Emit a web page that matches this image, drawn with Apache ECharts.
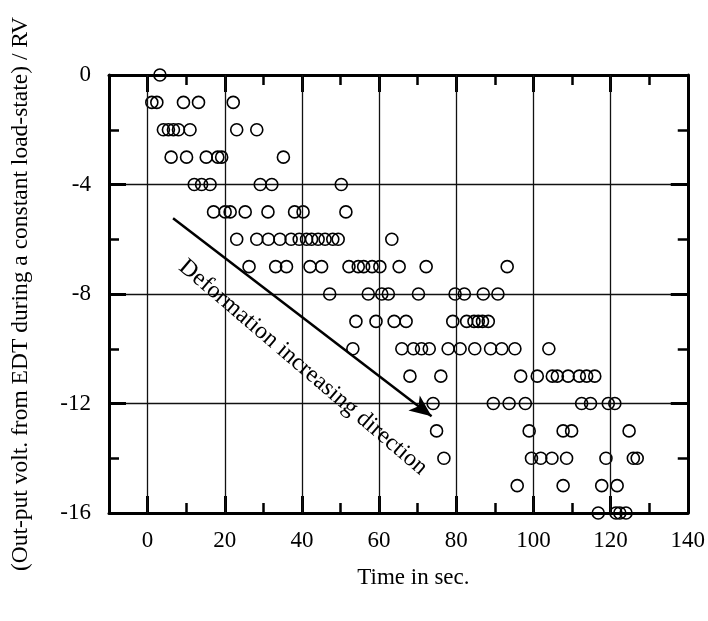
<!DOCTYPE html>
<html><head><meta charset="utf-8">
<script src="https://cdn.jsdelivr.net/npm/echarts@6/dist/echarts.min.js"></script>
<style>html,body{margin:0;padding:0;background:#fff}#c{width:708px;height:621px}</style>
</head><body><div id="c"></div>
<script>
// Voltage levels (RV) and the times (s) at which each level was recorded
const voltLevels = [0,-1,-2,-3,-4,-5,-6,-7,-8,-9,-10,-11,-12,-13,-14,-15,-16];
const timesAtLevel = [
  [3.2],
  [1.1, 2.4, 9.3, 13.2, 22.2],
  [4.1, 5.4, 6.7, 8.0, 11.0, 23.1, 28.3],
  [6.1, 10.1, 15.2, 18.2, 19.2, 35.2],
  [12.1, 14.0, 16.2, 29.2, 32.2, 50.2],
  [17.1, 20.1, 21.4, 25.3, 31.2, 38.1, 40.3, 51.4],
  [23.1, 28.3, 31.3, 34.3, 37.2, 39.3, 41.2, 42.5, 44.2, 46.0, 48.0, 49.4, 63.3],
  [26.3, 33.2, 36.0, 42.1, 45.1, 52.2, 54.6, 56.0, 58.2, 60.2, 65.2, 72.2, 93.2],
  [47.2, 57.2, 60.7, 62.4, 70.2, 79.7, 82.1, 87.0, 90.8],
  [54.0, 59.2, 63.9, 67.0, 79.1, 82.7, 84.6, 85.7, 86.8, 88.3],
  [53.2, 65.9, 68.9, 71.0, 73.0, 77.9, 81.0, 84.8, 88.9, 91.8, 95.2, 104.0],
  [68.0, 76.0, 96.7, 101.0, 104.9, 106.2, 109.0, 111.9, 113.8, 115.9],
  [74.0, 89.6, 93.7, 97.9, 112.5, 114.8, 119.4, 121.1],
  [74.9, 98.9, 107.7, 109.9, 124.8],
  [76.8, 99.5, 101.9, 104.8, 108.6, 118.8, 125.9, 126.9],
  [95.8, 107.7, 117.7, 121.7],
  [116.8, 121.4, 122.4, 124.0]
];
const xMajorTicks = [0, 20, 40, 60, 80, 100, 120, 140];
const xMinorTicks = [-10, 10, 30, 50, 70, 90, 110, 130];
const xGridValues = [0, 20, 40, 60, 80, 100, 120];
const arrowFrom = [6.6, -5.23];
const arrowTo = [73.6, -12.47];
const arrowText = 'Deformation increasing direction';
const arrowTextAt = [40.3, -10.68];

const points = [];
voltLevels.forEach((v, i) => timesAtLevel[i].forEach(t => points.push([t, v])));

const FONT = 'Liberation Serif';
const chart = echarts.init(document.getElementById('c'));

function xAx(pos, major, showLabel, showLine, extra) {
  return Object.assign({
    type: 'value', position: pos, min: -10, max: 140,
    axisLine: {show: showLine, onZero: false, lineStyle: {color: '#000', width: 3}},
    axisTick: {show: true, inside: true, customValues: major ? xMajorTicks : xMinorTicks,
      length: major ? 17 : 10, lineStyle: {color: '#000', width: major ? 3 : 2.5}},
    axisLabel: {show: showLabel, customValues: xMajorTicks, margin: 16,
      fontFamily: FONT, fontSize: 23, color: '#000'},
    splitLine: {show: false}
  }, extra || {});
}
function yAx(pos, showLabel, extra) {
  return Object.assign({
    type: 'value', position: pos, min: -16, max: 0, interval: 4,
    axisLine: {show: true, onZero: false, lineStyle: {color: '#000', width: 3}},
    axisTick: {show: true, inside: true, length: 17, lineStyle: {color: '#000', width: 3}},
    minorTick: {show: true, splitNumber: 2, length: 10, lineStyle: {color: '#000', width: 2.5}},
    axisLabel: {show: showLabel, margin: 18, fontFamily: FONT, fontSize: 23, color: '#000'},
    splitLine: {show: pos === 'left', lineStyle: {color: '#111', width: 1.3}},
    minorSplitLine: {show: false}
  }, extra || {});
}

chart.setOption({
  animation: false,
  backgroundColor: '#fff',
  grid: {left: 109, right: 20, top: 75, bottom: 108, containLabel: false},
  xAxis: [
    xAx('bottom', true, true, true, {name: 'Time in sec.', nameLocation: 'middle', nameGap: 53,
      nameTextStyle: {fontFamily: FONT, fontSize: 23, color: '#000', padding: [0, 0, 0, 30]}}),
    xAx('bottom', false, false, false),
    xAx('top', true, false, true),
    xAx('top', false, false, false)
  ],
  yAxis: [
    yAx('left', true, {name: '(Out-put volt. from EDT during a constant load-state) / RV',
      nameLocation: 'middle', nameGap: 76,
      nameTextStyle: {fontFamily: FONT, fontSize: 23.5, color: '#000'}}),
    yAx('right', false)
  ],
  series: [
    {
      type: 'scatter', xAxisIndex: 0, yAxisIndex: 0, data: [], z: 1, silent: true,
      markLine: {silent: true, symbol: ['none', 'none'], label: {show: false},
        lineStyle: {color: '#111', width: 1.3, type: 'solid'},
        data: xGridValues.map(v => ({xAxis: v}))}
    },
    {
      type: 'scatter', xAxisIndex: 0, yAxisIndex: 0, data: points, z: 3,
      symbol: 'circle', symbolSize: 12,
      itemStyle: {color: 'rgba(0,0,0,0)', borderColor: '#000', borderWidth: 1.6, opacity: 1},
      markLine: {silent: true, symbol: ['none', 'arrow'], symbolSize: [14, 22], label: {show: false},
        lineStyle: {color: '#000', width: 2.5, type: 'solid'},
        data: [[{coord: arrowFrom}, {coord: arrowTo}]]}
    }
  ]
});

const c = chart.convertToPixel({xAxisIndex: 0, yAxisIndex: 0}, arrowTextAt);
chart.setOption({
  graphic: [{
    type: 'text', x: c[0], y: c[1], rotation: -40.5 * Math.PI / 180, z: 10,
    style: {text: arrowText, fontFamily: FONT, fontSize: 24, fill: '#000',
      align: 'center', verticalAlign: 'middle'}
  }]
});
</script></body></html>
